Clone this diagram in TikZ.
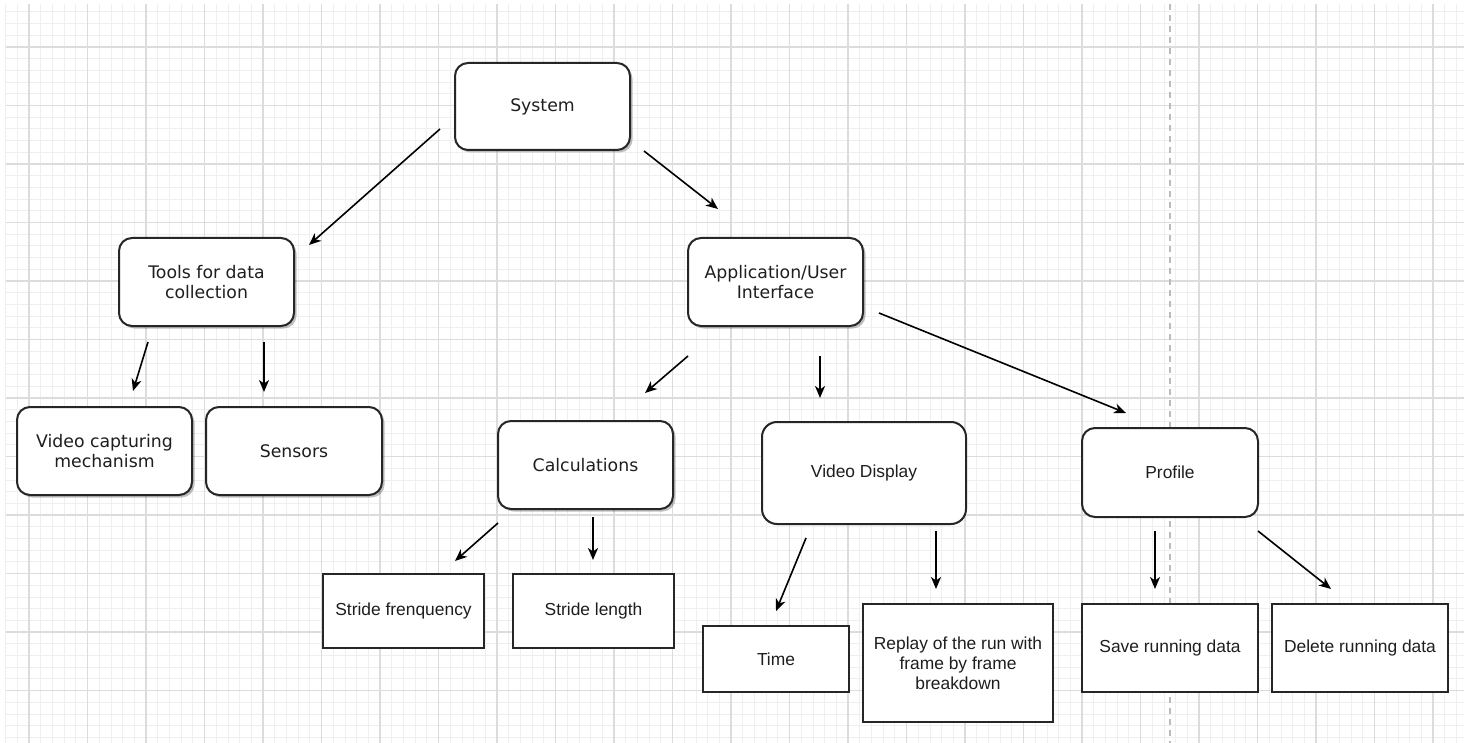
\documentclass[tikz,border=0pt]{standalone}
\usepackage{fontspec}
\setmainfont{Liberation Sans}
\newfontfamily\vfont{DejaVu Sans}
\usetikzlibrary{arrows.meta,shadows}
\definecolor{minorgrid}{HTML}{EFEFEF}
\definecolor{majorgrid}{HTML}{DCDCDC}
\definecolor{edge}{HTML}{262626}
\definecolor{txt}{HTML}{1E1E1E}
\tikzset{
  minorline/.style={draw=minorgrid, line width=0.8pt},
  majorline/.style={draw=majorgrid, line width=1.1pt},
  basebox/.style={draw=edge, line width=2pt, fill=white, inner sep=0pt, align=center, text=txt},
  vbox/.style={basebox, rounded corners=13pt, font=\vfont\fontsize{17.3}{20}\selectfont,
     drop shadow={shadow xshift=2.5pt, shadow yshift=-2.5pt, fill=black, opacity=0.25}},
  abox/.style={basebox, rounded corners=13pt, font=\fontsize{17.4}{20}\selectfont},
  sbox/.style={basebox, font=\fontsize{17.4}{20}\selectfont},
  conn/.style={draw=black, line width=1.6pt, -{Stealth[length=12pt,width=10pt,inset=3.5pt]}},
}
\begin{document}
\begin{tikzpicture}[x=1pt,y=-1pt]
\useasboundingbox (0,0) rectangle (1464,743);
\fill[white] (0,0) rectangle (1464,743);
% grid
\foreach \i in {0,...,124} {\draw[minorline] ({5.6+11.7*\i},4) -- ({5.6+11.7*\i},743);}
\foreach \j in {1,...,63} {\draw[minorline] (6,{0.2+11.7*\j}) -- (1464,{0.2+11.7*\j});}
\foreach \i in {0,...,24} {\draw[majorline] ({29+58.5*\i},4) -- ({29+58.5*\i},743);}
\foreach \j in {0,...,11} {\draw[majorline] (6,{47+58.5*\j}) -- (1464,{47+58.5*\j});}
\draw[draw=majorgrid!85!black, line width=1.2pt, dash pattern=on 6pt off 5pt] (1170,4) -- (1170,743);

% nodes
\node[vbox, minimum width=175pt, minimum height=87pt] (sys) at (542.5,106.5) {System};
\node[vbox, minimum width=175pt, minimum height=88pt] (tools) at (206.5,282) {Tools for data\\collection};
\node[vbox, minimum width=175pt, minimum height=88pt] (app) at (775.5,282) {Application/User\\Interface};
\node[vbox, minimum width=175pt, minimum height=88pt] (vcm) at (104.5,451) {Video capturing\\mechanism};
\node[vbox, minimum width=176pt, minimum height=88pt] (sens) at (294,451) {Sensors};
\node[vbox, minimum width=175pt, minimum height=88pt] (calc) at (585.5,465) {Calculations};
\node[abox, rounded corners=15pt, minimum width=204pt, minimum height=102pt] (vd) at (864,473) {Video Display};
\node[abox, minimum width=176pt, minimum height=89pt] (prof) at (1170,472.5) {Profile};
\node[sbox, minimum width=161pt, minimum height=74pt] (sf) at (403.5,611) {Stride frenquency};
\node[sbox, minimum width=161pt, minimum height=74pt] (sl) at (593.5,611) {Stride length};
\node[sbox, minimum width=146pt, minimum height=66pt] (time) at (776,659) {Time};
\node[sbox, minimum width=190pt, minimum height=118pt] (replay) at (958,663) {Replay of the run with\\frame by frame\\breakdown};
\node[sbox, minimum width=176pt, minimum height=88pt] (save) at (1170,648) {Save running data};
\node[sbox, minimum width=176pt, minimum height=88pt] (del) at (1360,648) {Delete running data};

% connector end points (arrows float free of the boxes)
\coordinate (a1s) at (440,129);  \coordinate (a1e) at (309,245);
\coordinate (a2s) at (644,151);  \coordinate (a2e) at (718,209);
\coordinate (a3s) at (148,342);  \coordinate (a3e) at (133,391);
\coordinate (a4s) at (264,342);  \coordinate (a4e) at (264,392);
\coordinate (a5s) at (688,356);  \coordinate (a5e) at (645,393);
\coordinate (a6s) at (820,356);  \coordinate (a6e) at (820,398);
\coordinate (a7s) at (879,313);  \coordinate (a7e) at (1126,413);
\coordinate (a8s) at (498,523);  \coordinate (a8e) at (455,561);
\coordinate (a9s) at (593,517);  \coordinate (a9e) at (593,560);
\coordinate (a10s) at (806,538); \coordinate (a10e) at (776,611);
\coordinate (a11s) at (936,531); \coordinate (a11e) at (936,589);
\coordinate (a12s) at (1155,531); \coordinate (a12e) at (1155,589);
\coordinate (a13s) at (1258,531); \coordinate (a13e) at (1331,589);

\draw[conn] (a1s) -- (a1e);
\draw[conn] (a2s) -- (a2e);
\draw[conn] (a3s) -- (a3e);
\draw[conn] (a4s) -- (a4e);
\draw[conn] (a5s) -- (a5e);
\draw[conn] (a6s) -- (a6e);
\draw[conn] (a7s) -- (a7e);
\draw[conn] (a8s) -- (a8e);
\draw[conn] (a9s) -- (a9e);
\draw[conn] (a10s) -- (a10e);
\draw[conn] (a11s) -- (a11e);
\draw[conn] (a12s) -- (a12e);
\draw[conn] (a13s) -- (a13e);
\end{tikzpicture}
\end{document}
